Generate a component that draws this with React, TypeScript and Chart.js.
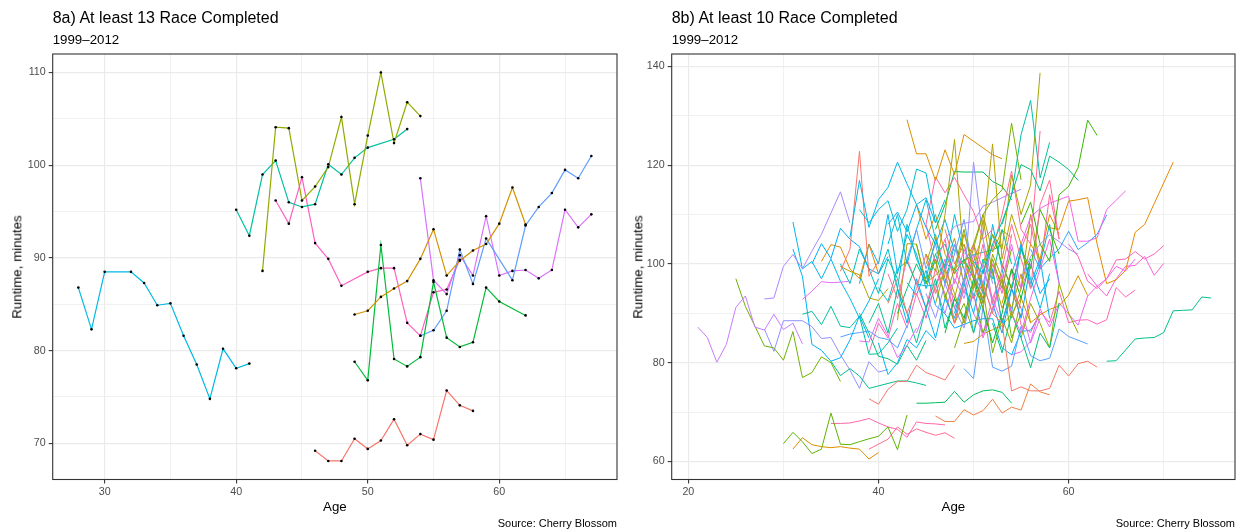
import { useEffect, useRef } from 'react';
import { Chart, registerables } from 'chart.js';

Chart.register(...registerables);

const FONT = '"Liberation Sans", Arial, Helvetica, sans-serif';

// ---------- Panel 8a: runners with at least 13 races ----------
const redAges = [46, 47, 48, 49, 50, 51, 52, 53, 54, 55, 56, 57, 58];
const redTimes = [69.2, 68.1, 68.1, 70.5, 69.4, 70.3, 72.6, 69.8, 71.0, 70.4, 75.7, 74.1, 73.5];
const orangeAges = [49, 50, 51, 52, 53, 54, 55, 56, 57, 58, 59, 60, 61, 62];
const orangeTimes = [83.9, 84.3, 85.8, 86.7, 87.5, 89.9, 93.1, 88.1, 89.7, 90.8, 91.5, 93.7, 97.6, 93.6];
const oliveAges = [42, 43, 44, 45, 46, 47, 48, 49, 50, 51, 52, 53, 54];
const oliveTimes = [88.6, 104.1, 104.0, 96.2, 97.7, 99.8, 105.2, 95.8, 103.2, 110.0, 102.4, 106.8, 105.3];
const greenAges = [49, 50, 51, 52, 53, 54, 55, 56, 57, 58, 59, 60, 62];
const greenTimes = [78.8, 76.8, 91.4, 79.1, 78.3, 79.3, 87.4, 81.4, 80.4, 80.9, 86.8, 85.3, 83.8];
const tealAges = [40, 41, 42, 43, 44, 45, 46, 47, 48, 49, 50, 52, 53];
const tealTimes = [95.2, 92.4, 99.0, 100.5, 96.0, 95.5, 95.8, 100.1, 99.0, 100.8, 101.9, 102.8, 103.9];
const cyanAges = [28, 29, 30, 32, 33, 34, 35, 36, 37, 38, 39, 40, 41];
const cyanTimes = [86.8, 82.3, 88.5, 88.5, 87.3, 84.9, 85.1, 81.6, 78.5, 74.8, 80.2, 78.1, 78.6];
const blueAges = [54, 55, 56, 57, 58, 59, 61, 62, 63, 64, 65, 66, 67];
const blueTimes = [81.6, 82.2, 84.3, 90.9, 87.2, 92.1, 87.6, 93.5, 95.5, 97.0, 99.5, 98.6, 101.0];
const violetAges = [54, 55, 56, 57, 58, 59, 60, 61, 62, 63, 64, 65, 66, 67];
const violetTimes = [98.6, 87.6, 86.1, 90.3, 88.1, 94.5, 88.1, 88.6, 88.7, 87.8, 88.7, 95.2, 93.3, 94.7];
const pinkAges = [43, 44, 45, 46, 47, 48, 50, 51, 52, 53, 54, 55, 56, 57];
const pinkTimes = [96.2, 93.7, 98.7, 91.6, 89.9, 87.0, 88.5, 88.9, 88.9, 83.0, 81.6, 86.3, 86.6, 89.8];

const leftAgeSets = [redAges, orangeAges, oliveAges, greenAges, tealAges, cyanAges, blueAges, violetAges, pinkAges];
const leftTimeSets = [redTimes, orangeTimes, oliveTimes, greenTimes, tealTimes, cyanTimes, blueTimes, violetTimes, pinkTimes];
const leftColors = ['#F8766D', '#D39200', '#93AA00', '#00BA38', '#00C19F', '#00B9E3', '#619CFF', '#DB72FB', '#FF61C3'];

// ---------- Panel 8b: runners with at least 10 races ----------
// the 8a runners appear again in 8b, in other colours
const rightFromLeftColors = ['#EE8044', '#D09400', '#B09F00', '#5AA0FF', '#00BEC0', '#8F91FF', '#EF67EB', '#FF63B8', '#00AFF8'];

// other runners: first age, then one time per year of age (null = race missed)
const rStarts = [
  21, 25, 28, 30, 31, 35, 39, 44, 39, 35,
  43, 37, 38, 36, 50, 51, 55, 53, 50, 45,
  49, 47, 58, 55, 56, 64, 50, 62, 60, 47,
  55, 45, 52, 41, 46,
  32, 31, 36, 32, 36, 38, 40, 38, 31, 33, 34,
  40, 41, 44, 42, 45, 46, 47, 48, 39, 43,
  44, 48, 50, 45, 38, 49, 51, 49, 46, 52,
  39, 44, 42, 53, 47, 50, 46, 52, 47, 41,
  45, 48, 50, 54, 53, 36, 55, 41,
];
const rTimes: (number | null)[][] = [
  [87.2, 85.1, 80.1, 83.7, 91.2, 93.5, 87.2, 86.6, 89.8, 86.7, 88.0, 83.8],
  [97.0, 91.4, 87.4, 83.4, 83.0, 80.5, 86.3, 77.0, 78.0, 81.2, 80.0, 76.2],
  [92.9, 93.1, 99.5, 101.9, 99.0, 102.6, 106.0, 110.3, 114.6, 108.3],
  [63.6, 65.9, 64.0, 61.6, 62.5, 69.8, 63.5, 63.4, 64.0, 64.6, 65.1, 67.0, 62.4, 69.4],
  [62.5, 64.8, 63.4, 63.0, 62.8, 63.0, 62.7, 62.5, 60.5, 61.8],
  [67.7, 67.7, 67.8, 68.2, 68.7, 67.8, 67.0, 66.5, 64.9, 68.0, 67.7, 67.6, 67.4],
  [62.5, 63.5, 64.5, 67.0, 65.5, 66.6, 65.9, 65.3, 65.8, 64.7],
  [71.8, 71.8, 71.9, 72.0, 74.2, 72.0, 73.5, 74.3, 74.5, 74.0, 71.8],
  [72.7, 71.6, 74.6, 76.2, 76.2, 79.5, 78.0, 77.3, 76.5, 79.5],
  [80.3, 77.4, 78.8, 77.3, 74.8, 75.3, 75.8, 76.3, 76.3, 75.9, 75.4],
  [129.2, 122.3, 122.3, 116.9, 123.1, 118.1, 126.2, null, null, 122.1, 121.3],
  [105.4, 116.9, 107.4, 113.0, 115.5, 120.6, 116.2, 112.0, 113.4, 108.3],
  [111.0, 108.3, 111.0, 112.8, 106.6, 111.0, 119.2, 118.4, 108.3, 113.0],
  [98.5, 103.0, 122.8, 97.5, 100.5],
  [100.5, 98.0, 104.0, 108.5, 114.0, 126.2, 133.1, 117.4, 124.6],
  [100.0, 106.0, 103.0, 118.0, 110.0, 116.0, 138.7],
  [108.0, 112.5, 104.0, 100.5, 114.0, 115.7, 119.5, 129.1, 126.0],
  [108.0, 114.0, 120.1, 119.1, 114.8, 121.8, 120.6, 119.1, 116.9],
  [104.0, 110.0, 113.0, 115.0, 128.5, 117.0],
  [102.0, 98.5, 110.0, 125.2, 100.0, 104.0, 95.0],
  [97.0, 100.5, 106.0, 124.3, 101.0, 110.0, 104.0],
  [99.0, 104.0, 96.0, 120.6, 105.0, 96.0],
  [107.3, 107.0, 112.7, 113.0, 113.4, 104.0, 96.0, 96.8, 98.7, 106.4, 108.0, 112.2, 116.4, 120.6],
  [104.0, 109.5, 111.2, 112.3, 113.0, 113.7, 104.6, 104.6, 105.3, 111.0, 112.9, 114.8],
  [103.0, 99.0, 101.2, 103.0, 106.6, 102.9, 104.3, 106.0, 109.9],
  [80.3, 80.4, 82.6, 84.8, 85.0, 85.1, 86.1, 90.5, 90.6, 90.7, 93.3, 93.1],
  [93.0, 96.0, 90.0, 88.0, 74.3, 75.1, 74.3, 74.3, 74.8, 79.5, 77.3, 79.8, 80.3, 79.1],
  [98.0, 95.5, 93.5, 97.0, 99.5, 99.7, 101.5, 97.7, 100.1],
  [104.0, 101.5, 96.5, 95.0, 97.0, 100.8, 101.0, 102.5, 101.0, 102.0, 103.7],
  [105.0, 107.6, 108.2, 108.6, 111.7, 112.5, 113.4, 114.3, 115.1],
  [97.0, 101.5, 104.0, 105.9, 104.5, 103.0, 102.0],
  [108.0, 117.6, 114.4, 117.5, 114.0, 110.6, 105.0, 107.0],
  [103.0, 110.0, 118.8, 107.0, 104.0, 126.9],
  [108.0, 110.5, 106.5, 112.0, 107.4, 104.0, 109.0, 102.5],
  [107.0, 112.0, 118.7, 118.6, 118.6, 118.6, 116.7, 115.7, 113.0],
  [92.8, 94.5, 96.4, 96.2, 96.3, 96.5],
  [103.0, 97.5, 83.7, 82.5, 80.3, 81.0, 84.6, 89.5, 85.0],
  [99.5, 98.5, 97.8, 93.1, 92.6, 95.0],
  [89.8, 90.4, 87.7, 91.4, 87.4, 87.1, 89.4, 81.7, 81.8, 84.0, 87.0],
  [85.2, 85.8, 86.1, 86.4, 85.1, 84.7, 83.0, 87.5],
  [84.4, 84.2, 89.0, 85.5, 81.0, 83.5, 87.0],
  [84.0, 77.6, 80.0, 84.7, 83.0, 86.5, 84.5],
  [90.0, 86.0, 81.3, 80.8, 79.7, 83.5, 80.5, 84.5],
  [108.5, 99.0, 100.5, 97.0, 101.0, 96.5, 93.0, 89.0, 92.5, 97.0],
  [100.0, 104.1, 101.1, 107.2, 105.0, 103.5, 99.0, 98.0, 101.5],
  [100.5, 103.9, 103.4, 99.0, 97.0, 104.0, 98.0],
  [98, 103, 95, 108, 101, 97, 105, 99, 110, 102],
  [92, 97, 90, 95, 102, 94, 99, 88, 96],
  [104, 96, 101, 93, 99, 107, 98, 92, 101, 95, 103],
  [95, 88, 97, 91, 85, 93, 89, 96, 90, 99],
  [108, 100, 105, 96, 103, 98, 92, 100, 94, 106],
  [92, 99, 94, 88, 96, 91, 102, 97, 89, 95, 110, 100],
  [86, 93, 89, 97, 91, 84, 90, 99, 93, 101],
  [99, 94, 102, 96, 90, 97, 104, 95, 100],
  [88, 92, 86, 95, 90, 84, 91, 97, 87, 93],
  [101, 107, 99, 104, 96, 102, 109, 98, 94],
  [112, 105, 110, 102, 98, 106, 100, 95],
  [90, 97, 86, 93, 99, 88, 95, 103, 97, 91, 98],
  [96, 104, 92, 99, 108, 101, 95, 112, 117, 105],
  [94, 89, 96, 91, 87, 95, 100, 92],
  [96, 104, 100, 110, 98, 106, 102, 95, 101],
  [88, 94, 85, 91, 97, 90, 86, 93, 99, 105, 96],
  [98, 106, 100, 95, 103, 99, 111, 107, 102],
  [104, 97, 93, 100, 96, 91, 98, 88],
  [102, 96, 104, 99, 93, 101, 97, 107, 100],
  [92, 86, 95, 89, 100, 94, 97],
  [82, 88, 85, 92, 87, 94, 89, 96],
  [86, 91, 95, 90, 97, 93, 100, 96, 104],
  [90, 95, 100, 96, 102, 104, 98, 101, 97],
  [92, 99, 95, 104, 101, 110, 106],
  [94, 88, 92, 86, 95, 82, 89, 84, 93],
  [102, 94, 108, 99, 90, 104, 96, 101, 89],
  [95, 101, 91, 97, 104, 99, 93, 98],
  [88, 82, 90, 85, 79, 86, 83, 92],
  [107, 100, 104, 97, 93, 99, 88, 95, 91],
  [104, 110, 100, 107, 113, 105, 99],
  [100, 106, 97, 93, 101, 95, 109, 98, 91, 96],
  [83, 89, 94, 86, 91, 97, 85, 90],
  [90, 86, 93, 88, 95, 91, 84, 89],
  [98, 104, 95, 100, 108, 96],
  [100, 95, 103, 108, 99, 114, 105],
  [100, 96, 103, 99, 94, 101, 97],
  [85, 92, 88, 83, 96, 90, 86],
  [98, 93, 101, 96, 91, 99, 94, 88, 95],
];
const rColors = [
  '#C77CFF', '#6FB100', '#AC88FF', '#5BB300', '#DB8E00', '#FF66A9', '#FF6C91', '#00BD5C', '#F8766D', '#00C08D',
  '#D89000', '#00B6EB', '#00BDD4', '#F8766D', '#00C1A7', '#A3A500', '#39B600', '#00BF7D', '#7CAE00', '#ABA300',
  '#B5A000', '#9590FF', '#E38900', '#F265E8', '#35A2FF', '#00C08B', '#F47A62', '#FB61D7', '#FF62BC', '#B385FF',
  '#A58AFF', '#FF67A4', '#FF6C91', '#00B0F6', '#00BC56',
  '#E76BF3', '#00B0F6', '#B59F00', '#00C0A0', '#529EFF', '#E46DF6', '#00B6EA', '#00BF7D', '#00B7E8', '#00ABFD', '#E38900',
  '#00BFC4', '#F8766D', '#7CAE00', '#00B0F6', '#FF61C3', '#A3A500', '#00BA38', '#E76BF3', '#00C08B', '#619CFF',
  '#D89000', '#00BCD8', '#FF6C91', '#9590FF', '#00B6EB', '#F763E0', '#39B600', '#C99800', '#00C1A7', '#00A5FF',
  '#FF64B0', '#BB81FF', '#00BE70', '#E18A00', '#8AAB00', '#00B3F2', '#FD61D1', '#00BF7D', '#F37B59', '#00BBDB',
  '#B4A000', '#6BB100', '#DB72FB', '#00B9E3', '#FF689F', '#00C0B4', '#93AA00', '#FF6A98',
];

const W = 1243;
const H = 532;
const PLOT_TOP = 54;
const PLOT_BOTTOM = 479.5;

const borderPlugin = {
  id: 'panelBorder',
  afterDraw(chart: any) {
    const { ctx, chartArea: a } = chart;
    ctx.save();
    ctx.strokeStyle = '#333333';
    ctx.lineWidth = 1.1;
    ctx.strokeRect(a.left, a.top, a.right - a.left, a.bottom - a.top);
    ctx.restore();
  },
};

type PanelProps = {
  datasets: any[];
  width: number;
  plotLeft: number;
  plotRight: number;
  xMin: number;
  xMax: number;
  xStep: number;
  xMajor: number;
  yMin: number;
  yMax: number;
  yStep: number;
  yMajor: number;
};

function isMajor(v: number, major: number) {
  return Math.abs(v / major - Math.round(v / major)) < 1e-6;
}

function Panel(p: PanelProps) {
  const ref = useRef<HTMLCanvasElement>(null);
  useEffect(() => {
    const gridOpts = (major: number) => ({
      color: (c: any) => (c.tick && isMajor(c.tick.value, major) ? '#EBEBEB' : '#EEEEEE'),
      lineWidth: (c: any) => (c.tick && isMajor(c.tick.value, major) ? 1.2 : 0.8),
      drawTicks: true,
      tickLength: 4,
      tickColor: (c: any) => (c.tick && isMajor(c.tick.value, major) ? '#333333' : 'rgba(0,0,0,0)'),
      tickWidth: 1.07,
    });
    const chart = new Chart(ref.current as HTMLCanvasElement, {
      type: 'line',
      data: { datasets: p.datasets },
      options: {
        animation: false,
        responsive: false,
        devicePixelRatio: 1,
        layout: { padding: { top: PLOT_TOP, right: p.width - p.plotRight, left: 0, bottom: 0 } },
        plugins: { legend: { display: false }, tooltip: { enabled: false }, title: { display: false } },
        elements: { line: { tension: 0 } },
        scales: {
          x: {
            type: 'linear',
            min: p.xMin,
            max: p.xMax,
            grid: gridOpts(p.xMajor) as any,
            border: { display: false },
            afterFit: (s: any) => {
              s.height = H - PLOT_BOTTOM;
            },
            ticks: {
              stepSize: p.xStep,
              includeBounds: false,
              autoSkip: false,
              maxRotation: 0,
              padding: 2,
              color: '#4D4D4D',
              font: { family: FONT, size: 10.7 },
              callback: (v: any) => (isMajor(Number(v), p.xMajor) ? String(v) : ''),
            },
          },
          y: {
            type: 'linear',
            min: p.yMin,
            max: p.yMax,
            grid: gridOpts(p.yMajor) as any,
            border: { display: false },
            afterFit: (s: any) => {
              s.width = p.plotLeft;
            },
            ticks: {
              stepSize: p.yStep,
              includeBounds: false,
              autoSkip: false,
              padding: 3,
              color: '#4D4D4D',
              font: { family: FONT, size: 10.7 },
              callback: (v: any) => (isMajor(Number(v), p.yMajor) ? String(v) : ''),
            },
          },
        },
      },
      plugins: [borderPlugin],
    });
    return () => chart.destroy();
  }, []);
  return <canvas ref={ref} width={p.width} height={H} style={{ position: 'absolute', left: 0, top: 0 }} />;
}

const textBase: any = {
  position: 'absolute',
  fontFamily: FONT,
  fontWeight: 400,
  color: '#000',
  whiteSpace: 'nowrap',
  lineHeight: 1,
};

function Texts(props: { title: string; plotLeft: number; plotRight: number; offset: number }) {
  const { title, plotLeft, plotRight, offset } = props;
  const midY = (PLOT_TOP + PLOT_BOTTOM) / 2;
  return (
    <>
      <div style={{ ...textBase, left: plotLeft, top: 10, fontSize: 16 }}>{title}</div>
      <div style={{ ...textBase, left: plotLeft, top: 32.5, fontSize: 13.3 }}>1999–2012</div>
      <div
        style={{
          ...textBase,
          left: (plotLeft + plotRight) / 2,
          top: 499.5,
          fontSize: 13.3,
          transform: 'translateX(-50%)',
        }}
      >
        Age
      </div>
      <div
        style={{
          ...textBase,
          left: offset,
          top: midY,
          fontSize: 13.3,
          transform: 'translate(-50%, -50%) rotate(-90deg)',
        }}
      >
        Runtime, minutes
      </div>
      <div style={{ ...textBase, left: plotRight - 200, width: 200, textAlign: 'right', top: 517.5, fontSize: 11 }}>
        Source: Cherry Blossom
      </div>
    </>
  );
}

export default function App() {
  const leftLines = leftAgeSets.map((ages, i) => ({
    data: ages.map((a, j) => ({ x: a, y: leftTimeSets[i][j] })),
    borderColor: leftColors[i],
    borderWidth: 1.2,
    pointRadius: 0,
    fill: false,
    order: 1,
  }));
  const leftPoints = leftAgeSets.map((ages, i) => ({
    data: ages.map((a, j) => ({ x: a, y: leftTimeSets[i][j] })),
    showLine: false,
    pointRadius: 1.3,
    pointBackgroundColor: '#000',
    pointBorderWidth: 0,
    order: -1,
  }));

  const rightRepeat = leftAgeSets.map((ages, i) => ({
    data: ages.map((a, j) => ({ x: a, y: leftTimeSets[i][j] })),
    borderColor: rightFromLeftColors[i],
    borderWidth: 1,
    pointRadius: 0,
    fill: false,
  }));
  const rightOthers = rTimes.map((vals, i) => ({
    data: vals.map((v, j) => ({ x: rStarts[i] + j, y: v })),
    borderColor: rColors[i % rColors.length],
    borderWidth: 1,
    pointRadius: 0,
    fill: false,
    spanGaps: true,
  }));
  const rightSets = [...rightOthers, ...rightRepeat];

  return (
    <div style={{ position: 'absolute', left: 0, top: 0, width: W, height: H, background: '#fff', overflow: 'hidden' }}>
      <div style={{ position: 'absolute', left: 0, top: 0, width: 621, height: H }}>
        <Panel
          datasets={[...leftLines, ...leftPoints]}
          width={621}
          plotLeft={52.7}
          plotRight={617}
          xMin={26.05}
          xMax={68.95}
          xStep={5}
          xMajor={10}
          yMin={66.1}
          yMax={112.0}
          yStep={5}
          yMajor={10}
        />
        <Texts title="8a) At least 13 Race Completed" plotLeft={52.7} plotRight={617} offset={17} />
      </div>
      <div style={{ position: 'absolute', left: 621, top: 0, width: 622, height: H }}>
        <Panel
          datasets={rightSets}
          width={622}
          plotLeft={50.7}
          plotRight={614}
          xMin={18.25}
          xMax={77.5}
          xStep={10}
          xMajor={20}
          yMin={56.35}
          yMax={142.5}
          yStep={10}
          yMajor={20}
        />
        <Texts title="8b) At least 10 Race Completed" plotLeft={50.7} plotRight={614} offset={17} />
      </div>
    </div>
  );
}
